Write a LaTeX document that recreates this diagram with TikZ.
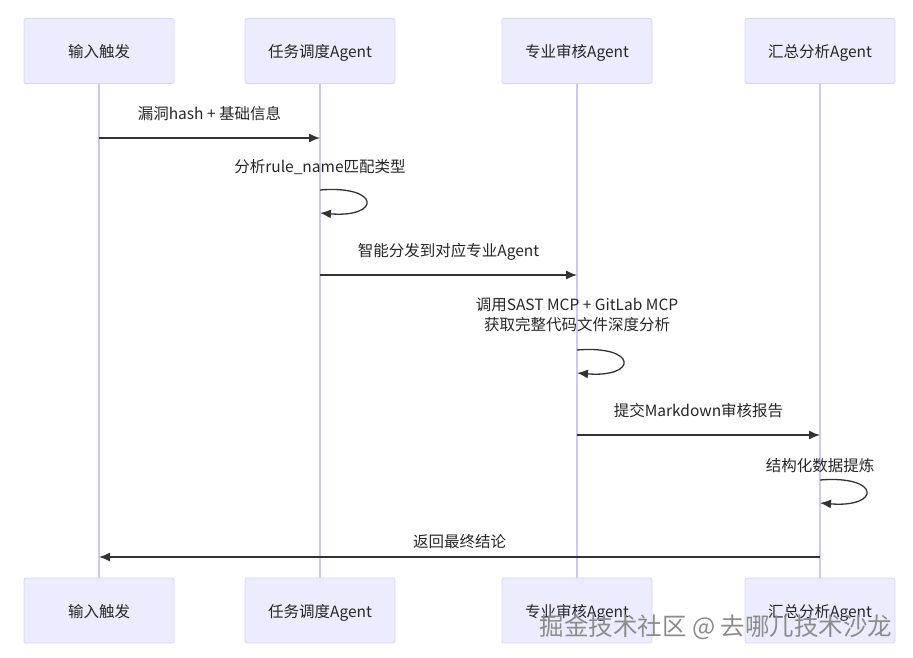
\documentclass[tikz,border=0pt]{standalone}
\usepackage{fontspec}
\setmainfont{Noto Sans CJK SC}
\usetikzlibrary{arrows.meta}
\definecolor{actorfill}{HTML}{ECECFF}
\definecolor{actorline}{HTML}{DAD4F4}
\definecolor{lifecol}{HTML}{CFC9F0}
\definecolor{msgcol}{HTML}{333333}
\tikzset{actor/.style={
  draw=actorline,
  fill=actorfill,
  rounded corners=2,
  line width=.8,
  minimum width=150,
  minimum height=65,
  text depth=0pt,
  text=black!85,
  font=\fontsize{15.5}{18}\selectfont}}
\tikzset{lifeline/.style={
  draw=lifecol,
  line width=1.2}}
\tikzset{msg/.style={
  draw=msgcol,
  line width=1.3,
  -{Latex[length=11,width=9]}}}
\tikzset{msglabel/.style={
  text=black!85,
  align=center,
  inner sep=0,
  font=\fontsize{15.5}{20}\selectfont}}

\begin{document}
\begin{tikzpicture}[x=1pt,y=-1pt]
  \useasboundingbox (0,0) rectangle (913,658);

  %%%% Actors and their lifelines %%%%
  \foreach \name/\x/\txt in {in/99/输入触发,disp/320/任务调度Agent,rev/577/专业审核Agent,sum/820/汇总分析Agent}{
    \node[actor] (\name-top) at (\x,51) {\txt};
    \node[actor] (\name-bot) at (\x,610.5) {\txt};
    \draw[lifeline] (\name-top) -- (\name-bot);
    %% Set coordinate for each message row
    \foreach \row in {138,190,213,275,350,373,435,480,503,557}{
      \coordinate (\name-\row) at (\x,\row);
    }
  }

  %% Messages
  \node[msglabel] (m1) at (209.5,113.5) {漏洞hash + 基础信息};
  \draw[msg] (in-138) -- (disp-138);

  \node[msglabel] (m2) at (320,167.5) {分析rule\_name匹配类型};
  \draw[msg] (disp-190) .. controls (381,185) and (381,218) .. (disp-213);

  \node[msglabel] (m3) at (448.5,251.5) {智能分发到对应专业Agent};
  \draw[msg] (disp-275) -- (rev-275);

  \node[msglabel] (m4) at (577,314.5) {调用SAST MCP + GitLab MCP\\获取完整代码文件深度分析};
  \draw[msg] (rev-350) .. controls (638,345) and (638,378) .. (rev-373);

  \node[msglabel] (m5) at (698.5,410.5) {提交Markdown审核报告};
  \draw[msg] (rev-435) -- (sum-435);

  \node[msglabel] (m6) at (820,465.5) {结构化数据提炼};
  \draw[msg] (sum-480) .. controls (881,475) and (881,508) .. (sum-503);

  \node[msglabel] (m7) at (459.5,541.5) {返回最终结论};
  \draw[msg] (sum-557) -- (in-557);

  % watermark
  \node[text=black!45,font=\fontsize{24.5}{28}\selectfont,inner sep=0] (mark) at (716,627) {掘金技术社区 @ 去哪儿技术沙龙};
\end{tikzpicture}
\end{document}
